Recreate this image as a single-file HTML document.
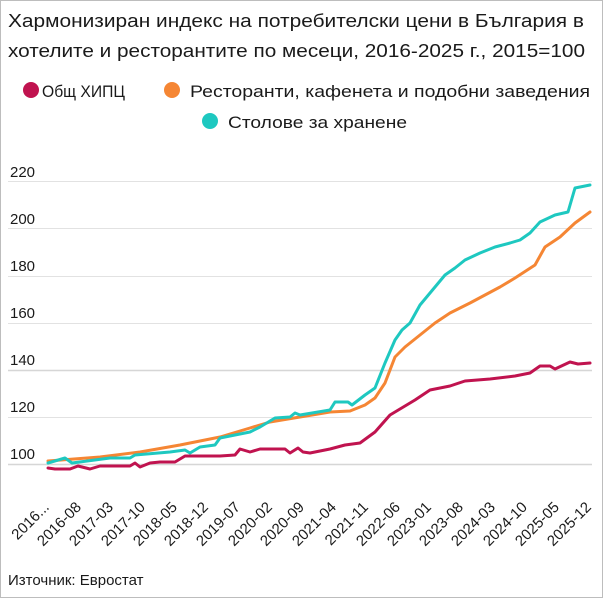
<!DOCTYPE html>
<html><head><meta charset="utf-8"><style>
html,body{margin:0;padding:0;background:#fff;}
svg{display:block;}
text{font-family:"Liberation Sans",sans-serif;fill:#1a1a1a;}
</style></head><body>
<svg width="603" height="598" viewBox="0 0 603 598">
<rect x="0.5" y="0.5" width="602" height="597" fill="#fff" stroke="#bdbdbd"/>
<text x="8" y="27" font-size="18" textLength="576" lengthAdjust="spacingAndGlyphs">Хармонизиран индекс на потребителски цени в България в</text>
<text x="8" y="57" font-size="18" textLength="577" lengthAdjust="spacingAndGlyphs">хотелите и ресторантите по месеци, 2016-2025 г., 2015=100</text>
<circle cx="31" cy="90" r="8" fill="#c0134f"/>
<text x="42" y="97" font-size="17" textLength="83" lengthAdjust="spacingAndGlyphs">Общ ХИПЦ</text>
<circle cx="172" cy="90" r="8" fill="#f58634"/>
<text x="190" y="97" font-size="17" textLength="400" lengthAdjust="spacingAndGlyphs">Ресторанти, кафенета и подобни заведения</text>
<circle cx="210" cy="121" r="8" fill="#1ec8c0"/>
<text x="228" y="128" font-size="17" textLength="179" lengthAdjust="spacingAndGlyphs">Столове за хранене</text>
<g stroke="#e2e2e2" stroke-width="1">
<line x1="8" x2="592" y1="181.5" y2="181.5"/>
<line x1="8" x2="592" y1="228.5" y2="228.5"/>
<line x1="8" x2="592" y1="276.5" y2="276.5"/>
<line x1="8" x2="592" y1="323.5" y2="323.5"/>
<line x1="8" x2="592" y1="370.5" y2="370.5" stroke="#d6d6d6" stroke-width="1.5"/>
<line x1="8" x2="592" y1="417.5" y2="417.5"/>
<line x1="8" x2="592" y1="464.5" y2="464.5" stroke="#d6d6d6" stroke-width="1.5"/>
</g>
<g font-size="15">
<text x="10" y="177">220</text>
<text x="10" y="224">200</text>
<text x="10" y="271">180</text>
<text x="10" y="318">160</text>
<text x="10" y="365">140</text>
<text x="10" y="412">120</text>
<text x="10" y="459">100</text>
</g>
<g fill="none" stroke-width="3" stroke-linejoin="round" stroke-linecap="round">
<polyline stroke="#f58634" points="48,461 100,457 140,452 180,445 220,437 250,428 270,422 300,417 330,412 350,411 365,405 375,398 385,383 395,357 405,347 420,335 435,323 450,313 470,303 485,295 500,287 515,278 535,265 545,247 560,237 575,223 590,212"/>
<polyline stroke="#1ec8c0" points="48,463 65,458 72,463 110,458 130,458 135,455 170,452 185,450 190,453 200,447 215,445 220,438 235,435 250,432 260,427 275,418 290,417 295,413 300,415 330,410 335,402 348,402 352,405 365,395 375,388 385,363 395,340 402,330 410,323 420,305 430,293 445,275 455,268 465,260 480,253 495,247 510,243 520,240 530,233 540,222 555,215 568,212 575,188 590,185"/>
<polyline stroke="#c0134f" points="48,468 55,469 70,469 78,466 90,469 100,466 130,466 135,463 140,467 150,463 160,462 175,462 185,456 220,456 235,455 240,449 250,452 260,449 285,449 290,453 298,448 303,452 310,453 330,449 345,445 360,443 375,432 390,415 415,400 430,390 450,386 465,381 490,379 515,376 530,373 540,366 550,366 555,369 570,362 578,364 590,363"/>
</g>
<g font-size="15">
<text text-anchor="end" transform="translate(50,508) rotate(-45)">2016...</text>
<text text-anchor="end" transform="translate(82,508) rotate(-45)">2016-08</text>
<text text-anchor="end" transform="translate(114,508) rotate(-45)">2017-03</text>
<text text-anchor="end" transform="translate(146,508) rotate(-45)">2017-10</text>
<text text-anchor="end" transform="translate(178,508) rotate(-45)">2018-05</text>
<text text-anchor="end" transform="translate(209,508) rotate(-45)">2018-12</text>
<text text-anchor="end" transform="translate(241,508) rotate(-45)">2019-07</text>
<text text-anchor="end" transform="translate(273,508) rotate(-45)">2020-02</text>
<text text-anchor="end" transform="translate(305,508) rotate(-45)">2020-09</text>
<text text-anchor="end" transform="translate(337,508) rotate(-45)">2021-04</text>
<text text-anchor="end" transform="translate(369,508) rotate(-45)">2021-11</text>
<text text-anchor="end" transform="translate(401,508) rotate(-45)">2022-06</text>
<text text-anchor="end" transform="translate(432,508) rotate(-45)">2023-01</text>
<text text-anchor="end" transform="translate(464,508) rotate(-45)">2023-08</text>
<text text-anchor="end" transform="translate(496,508) rotate(-45)">2024-03</text>
<text text-anchor="end" transform="translate(528,508) rotate(-45)">2024-10</text>
<text text-anchor="end" transform="translate(560,508) rotate(-45)">2025-05</text>
<text text-anchor="end" transform="translate(592,508) rotate(-45)">2025-12</text>
</g>
<text x="8" y="585" font-size="15">Източник: Евростат</text>
</svg>
</body></html>
